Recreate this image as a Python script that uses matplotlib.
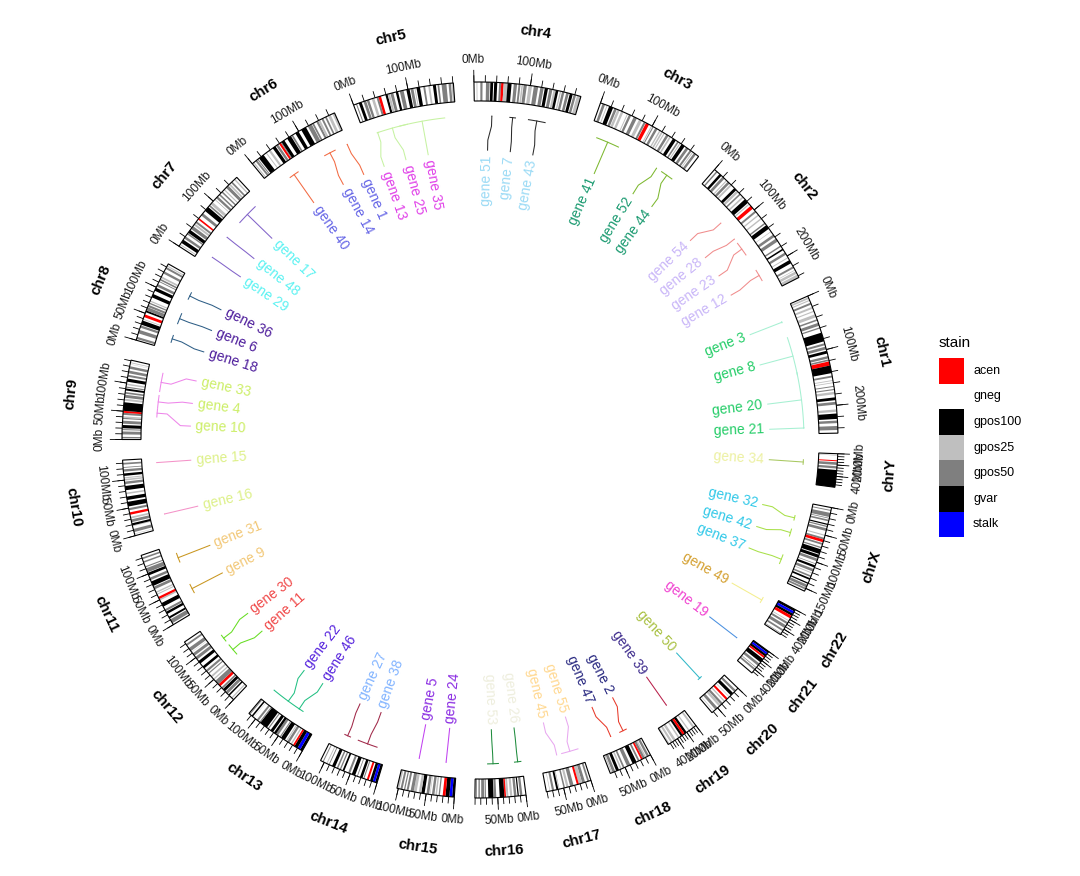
import numpy as np
import matplotlib
matplotlib.use('Agg')
import matplotlib.pyplot as plt
from matplotlib.patches import Rectangle

plt.rcParams['font.family'] = ['Liberation Sans', 'DejaVu Sans']

# ---------------- data ----------------
chrom_names = ['chr1', 'chr2', 'chr3', 'chr4', 'chr5', 'chr6', 'chr7', 'chr8', 'chr9', 'chr10',
               'chr11', 'chr12', 'chr13', 'chr14', 'chr15', 'chr16', 'chr17', 'chr18', 'chr19',
               'chr20', 'chr21', 'chr22', 'chrX', 'chrY']
chrom_lengths = [249.25, 243.2, 198.0, 191.15, 180.9, 171.1, 159.1, 146.4, 141.2, 135.5, 135.0,
                 133.9, 115.2, 107.3, 102.5, 90.4, 81.2, 78.1, 59.1, 63.0, 48.1, 51.3, 155.3, 59.4]
label_steps = [100, 100, 100, 100, 100, 100, 100, 50, 50, 50, 50, 50, 50, 50, 50, 50, 50, 50,
               20, 50, 20, 20, 50, 20]
tick_steps = [20, 20, 20, 20, 20, 20, 20, 10, 10, 10, 10, 10, 10, 10, 10, 10, 10, 10,
              5, 10, 5, 5, 10, 5]

bands_chr1 = [(2.3,5.4,'g25'),(7.2,9.2,'g25'),(12.7,16.2,'g50'),(20.4,23.9,'g25'),(28.0,30.0,'g25'),
              (34.6,40.1,'g25'),(44.0,46.8,'g50'),(50.7,56.1,'g50'),(59.0,61.3,'g50'),(68.9,84.9,'g100'),
              (88.4,92.0,'g50'),(94.7,99.7,'g50'),(102.2,107.2,'g100'),(111.8,116.1,'g50'),
              (117.8,120.7,'g50'),(121.5,128.9,'ac'),(128.9,142.6,'gv'),(147.0,150.3,'g50'),
              (155.0,156.5,'g25'),(159.1,160.5,'g25'),(165.5,167.2,'g50'),(170.9,172.9,'g50'),
              (176.0,180.3,'g25'),(185.8,190.8,'g100'),(193.8,198.7,'g50'),(207.2,211.5,'g25'),
              (214.5,224.1,'g100'),(227.0,231.5,'g50'),(236.6,243.7,'g50')]
bands_chr2 = [(4.4,7.0,'g50'),(12.0,16.5,'g100'),(19.0,23.9,'g50'),(27.9,29.8,'g25'),(31.8,36.3,'g50'),
              (38.3,41.5,'g25'),(47.8,52.9,'g100'),(54.0,58.4,'g25'),(61.3,64.1,'g50'),(68.6,71.5,'g25'),
              (75.0,83.3,'g100'),(85.3,87.4,'g25'),(90.5,96.8,'ac'),(102.1,105.6,'g50'),(110.6,113.0,'g25'),
              (118.6,121.1,'g25'),(129.1,131.7,'g50'),(134.3,142.1,'g100'),(147.9,149.0,'g25'),
              (154.9,159.6,'g50'),(163.5,169.5,'g50'),(178.0,180.6,'g50'),(184.8,187.6,'g100'),
              (192.7,197.0,'g50'),(202.5,204.1,'g25'),(208.2,214.5,'g100'),(221.0,224.5,'g50'),
              (228.0,229.1,'g25'),(231.0,235.6,'g25'),(237.3,243.2,'g25')]
bands_chr3 = [(4.0,8.7,'g50'),(11.8,13.3,'g25'),(16.4,23.9,'g100'),(26.4,30.9,'g50'),(32.1,36.5,'g25'),
              (39.4,43.7,'g25'),(50.6,52.3,'g25'),(54.4,58.6,'g50'),(63.7,69.8,'g50'),(74.2,79.8,'g25'),
              (83.5,87.2,'g50'),(87.9,93.9,'ac'),(98.3,100.0,'g25'),(101.2,103.1,'g50'),
              (106.5,110.9,'g50'),(114.8,117.3,'g25'),(119.0,121.9,'g25'),(123.8,125.8,'g25'),
              (129.2,133.7,'g50'),(135.7,138.7,'g25'),(142.8,148.9,'g100'),(152.1,155.0,'g50'),
              (157.0,159.0,'g25'),(161.0,167.6,'g100'),(170.9,175.7,'g50'),(179.0,182.7,'g50'),
              (184.5,186.0,'g25'),(187.9,192.3,'g50')]
bands_chr4 = [(4.5,6.0,'g25'),(11.3,15.2,'g50'),(21.3,27.7,'g50'),(29.0,34.0,'g100'),(35.8,41.2,'g100'),
              (44.6,48.2,'g50'),(48.2,52.7,'ac'),(52.7,59.5,'g25'),(59.5,66.6,'g100'),(70.5,76.3,'g50'),
              (78.9,82.4,'g50'),(84.1,86.9,'g25'),(88.0,93.7,'g50'),(96.8,102.9,'g25'),(106.2,113.9,'g50'),
              (117.8,123.8,'g50'),(125.8,131.5,'g100'),(134.0,139.5,'g50'),(141.5,145.6,'g25'),
              (145.6,150.2,'g100'),(152.9,155.3,'g25'),(156.8,161.1,'g50'),(164.5,169.2,'g50'),
              (171.0,176.3,'g100'),(178.0,182.3,'g50'),(184.2,191.1,'g25')]
bands_chr5 = [(4.5,6.3,'g50'),(9.8,15.0,'g100'),(18.4,23.3,'g50'),(24.6,28.9,'g50'),(33.8,38.4,'g25'),
              (42.5,46.1,'g50'),(46.1,50.7,'ac'),(58.9,62.9,'g100'),(63.2,67.2,'g25'),(68.1,73.3,'g50'),
              (77.8,82.0,'g100'),(85.1,91.9,'g50'),(97.0,102.8,'g100'),(104.5,109.6,'g50'),
              (111.5,113.1,'g25'),(115.2,121.4,'g100'),(127.3,130.6,'g50'),(136.2,139.5,'g25'),
              (144.5,149.8,'g100'),(152.7,155.7,'g50'),(159.9,168.5,'g50'),(172.3,176.6,'g50'),
              (177.4,180.9,'g25')]
bands_chr6 = [(2.3,4.2,'g25'),(7.1,10.6,'g50'),(11.6,13.4,'g50'),(15.2,25.2,'g100'),(30.4,32.1,'g25'),
              (36.6,40.5,'g25'),(45.2,51.1,'g100'),(52.6,57.0,'g50'),(58.8,62.6,'ac'),(62.6,64.2,'g50'),
              (64.2,70.0,'g100'),(75.9,83.9,'g100'),(84.9,88.0,'g50'),(93.1,99.5,'g100'),
              (105.0,114.6,'g100'),(118.3,126.1,'g50'),(127.1,130.3,'g50'),(135.2,139.0,'g50'),
              (139.0,142.8,'g25'),(145.6,149.0,'g50'),(152.5,155.6,'g50'),(158.5,163.5,'g25'),
              (167.0,171.1,'g25')]
bands_chr7 = [(2.8,4.5,'g25'),(7.3,13.8,'g100'),(16.5,20.9,'g50'),(25.5,28.0,'g50'),(28.8,35.0,'g100'),
              (37.2,43.3,'g50'),(45.4,49.0,'g25'),(50.5,54.0,'g50'),(58.1,61.1,'ac'),(67.0,72.0,'g50'),
              (77.5,86.4,'g100'),(88.2,91.1,'g50'),(92.8,98.0,'g25'),(103.8,104.5,'g50'),
              (107.4,111.6,'g50'),(114.6,117.4,'g50'),(121.1,123.8,'g50'),(127.1,129.2,'g25'),
              (132.6,138.2,'g50'),(139.8,142.8,'g25'),(145.1,148.2,'g50'),(152.6,155.1,'g25')]
bands_chr8 = [(2.2,6.2,'g50'),(12.7,19.0,'g50'),(23.3,27.4,'g50'),(28.8,36.5,'g100'),(38.3,39.7,'g25'),
              (43.1,48.1,'ac'),(52.2,55.5,'g100'),(55.5,61.6,'g50'),(62.2,66.0,'g50'),(68.1,70.5,'g50'),
              (72.3,74.4,'g25'),(80.6,86.9,'g100'),(93.3,99.0,'g100'),(101.6,106.2,'g50'),
              (110.5,112.1,'g50'),(113.8,116.7,'g50'),(118.2,121.4,'g25'),(127.3,131.5,'g50'),
              (136.4,139.9,'g50'),(141.2,143.0,'g25')]
bands_chr9 = [(2.2,4.6,'g50'),(9.0,14.2,'g50'),(16.6,18.5,'g50'),(19.9,25.6,'g100'),(28.0,33.2,'g50'),
              (36.3,38.4,'g50'),(38.4,41.0,'g25'),(43.6,47.3,'g50'),(47.3,50.7,'ac'),(50.7,65.9,'gv'),
              (68.7,72.2,'g25'),(74.0,79.2,'g50'),(81.1,84.1,'g50'),(86.9,90.4,'g100'),(91.8,93.9,'g50'),
              (96.6,99.3,'g25'),(102.6,108.2,'g100'),(111.3,114.9,'g50'),(117.7,122.5,'g50'),
              (125.8,130.3,'g50'),(133.5,134.0,'g25'),(135.9,137.4,'g25')]
bands_chr10 = [(3.0,3.8,'g25'),(6.6,12.2,'g50'),(17.3,18.6,'g25'),(18.7,22.6,'g100'),(24.6,29.6,'g50'),
               (31.3,34.4,'g25'),(38.0,42.3,'ac'),(46.1,49.9,'g50'),(52.9,61.2,'g100'),(64.5,70.6,'g100'),
               (74.9,77.7,'g25'),(82.0,89.5,'g100'),(92.9,97.3,'g50'),(99.1,101.9,'g25'),
               (103.0,104.9,'g25'),(107.4,111.8,'g100'),(114.9,119.1,'g50'),(121.7,123.1,'g50'),
               (127.5,130.6,'g50')]
bands_chr11 = [(3.2,10.7,'g50'),(12.7,16.2,'g100'),(21.7,26.1,'g100'),(27.2,31.0,'g50'),(36.4,43.5,'g100'),
               (48.8,51.6,'g25'),(51.6,55.7,'ac'),(59.9,61.7,'g25'),(63.4,65.9,'g25'),(70.5,75.5,'g50'),
               (77.1,85.6,'g100'),(88.3,92.8,'g50'),(97.2,102.1,'g100'),(103.0,110.6,'g50'),
               (112.5,114.5,'g50'),(121.2,123.9,'g50'),(127.8,130.8,'g50')]
bands_chr12 = [(3.3,5.4,'g25'),(10.1,12.8,'g100'),(14.8,20.0,'g50'),(21.3,26.5,'g100'),(27.3,30.5,'g50'),
               (33.3,38.2,'ac'),(38.2,46.4,'g50'),(49.1,51.5,'g25'),(54.9,58.1,'g25'),(63.1,65.1,'g50'),
               (67.7,71.5,'g50'),(75.7,80.3,'g100'),(86.7,92.2,'g100'),(95.8,101.2,'g50'),
               (103.8,109.0,'g50'),(111.7,112.3,'g25'),(114.3,120.7,'g50'),(125.9,129.3,'g50')]
bands_chr13 = [(0.0,4.5,'gv'),(4.5,10.0,'st'),(10.0,16.3,'gv'),(16.3,19.5,'ac'),(21.6,24.2,'g25'),
               (27.0,31.3,'g50'),(32.2,34.0,'g25'),(36.5,44.3,'g100'),(45.1,47.2,'g50'),(50.9,55.3,'g50'),
               (55.3,59.6,'g100'),(61.6,67.0,'g100'),(70.7,72.8,'g50'),(74.9,89.4,'g100'),
               (89.4,91.5,'g50'),(94.0,97.5,'g50'),(103.7,104.2,'g25'),(106.3,109.1,'g100'),
               (112.3,114.0,'g50')]
bands_chr14 = [(0.0,3.7,'gv'),(3.7,8.1,'st'),(8.1,13.0,'gv'),(15.6,19.1,'ac'),(23.6,25.5,'g50'),
               (27.2,31.8,'g100'),(36.0,37.4,'g50'),(40.9,47.2,'g100'),(50.4,54.1,'g50'),(61.6,64.8,'g100'),
               (67.9,70.2,'g50'),(73.3,76.0,'g50'),(79.3,84.9,'g100'),(89.8,91.4,'g50'),(94.2,95.8,'g25'),
               (101.5,103.2,'g50')]
bands_chr15 = [(0.0,3.9,'gv'),(3.9,8.7,'st'),(8.7,15.8,'gv'),(15.8,20.7,'ac'),(25.7,28.0,'g50'),
               (30.9,33.6,'g25'),(35.4,39.8,'g50'),(42.5,43.6,'g25'),(44.8,49.5,'g50'),(52.9,58.8,'g100'),
               (59.0,63.4,'g25'),(67.3,72.2,'g25'),(72.4,78.0,'g50'),(81.7,85.2,'g50'),(87.8,90.0,'g50'),
               (92.7,96.3,'g50'),(98.5,102.5,'g25')]
bands_chr16 = [(6.3,10.5,'g50'),(12.6,14.8,'g100'),(16.8,21.2,'g50'),(24.2,28.1,'g25'),(31.0,34.6,'g25'),
               (35.3,38.2,'ac'),(38.2,46.5,'gv'),(52.6,56.7,'g50'),(57.4,66.7,'g100'),(70.8,72.9,'g50'),
               (74.1,79.2,'g50'),(81.7,84.2,'g50'),(87.1,88.7,'g50')]
bands_chr17 = [(3.3,6.5,'g50'),(10.7,16.0,'g50'),(16.0,22.2,'g25'),(22.2,25.8,'ac'),(31.8,38.1,'g50'),
               (40.9,44.9,'g25'),(47.4,50.2,'g50'),(57.6,58.3,'g50'),(59.5,63.0,'g100'),(67.1,70.9,'g50'),
               (74.3,75.3,'g25')]
bands_chr18 = [(2.9,7.1,'g50'),(8.5,10.9,'g25'),(11.1,15.4,'g50'),(15.4,18.5,'ac'),(21.6,24.8,'g50'),
               (27.5,35.1,'g100'),(39.5,45.9,'g50'),(50.7,53.8,'g50'),(56.2,59.0,'g25'),(61.6,66.8,'g100'),
               (68.8,73.7,'g50'),(74.2,76.1,'g25')]
bands_chr19 = [(3.4,6.9,'g25'),(13.8,16.1,'g25'),(20.0,24.4,'gv'),(24.4,28.6,'ac'),(28.6,32.4,'gv'),
               (35.5,38.3,'g25'),(43.4,47.8,'g25'),(50.0,53.8,'g25'),(56.3,58.3,'g25')]
bands_chr20 = [(5.1,9.2,'g50'),(12.1,17.9,'g100'),(21.3,22.3,'g25'),(25.6,29.4,'ac'),(32.1,34.4,'g25'),
               (37.6,41.7,'g50'),(42.1,46.4,'g25'),(49.8,55.0,'g50'),(58.4,59.4,'g25')]
bands_chr21 = [(0.0,2.8,'gv'),(2.8,6.8,'st'),(6.8,10.9,'gv'),(10.9,14.3,'ac'),(16.4,24.0,'g100'),
               (26.8,31.5,'g50'),(35.3,36.4,'g50'),(38.3,41.6,'g50')]
bands_chr22 = [(0.0,3.8,'gv'),(3.8,8.3,'st'),(8.3,12.7,'gv'),(12.7,17.9,'ac'),(22.2,23.5,'g25'),
               (25.9,29.6,'g50'),(32.2,37.6,'g50'),(41.0,44.2,'g50'),(48.4,49.4,'g50')]
bands_chrX = [(4.3,6.0,'g50'),(9.6,17.1,'g50'),(18.6,19.9,'g50'),(21.9,24.9,'g50'),(29.3,31.5,'g100'),
              (33.1,35.3,'g50'),(37.6,42.4,'g50'),(49.3,51.3,'g25'),(54.8,58.1,'g50'),(58.1,63.0,'ac'),
              (64.6,67.8,'g50'),(71.8,74.1,'g50'),(76.0,84.6,'g100'),(86.2,91.8,'g100'),(93.5,98.3,'g50'),
              (102.6,103.7,'g50'),(106.1,110.1,'g100'),(113.0,117.7,'g50'),(119.9,121.5,'g25'),
              (125.3,128.2,'g50'),(130.4,133.5,'g100'),(138.9,141.2,'g100'),(143.0,148.0,'g50'),
              (149.0,152.2,'g50')]
bands_chrY = [(2.5,3.0,'g50'),(11.6,13.4,'ac'),(15.1,19.8,'g50'),(22.1,26.2,'g50'),(28.8,59.4,'gv')]

stain_names = ['acen', 'gneg', 'gpos100', 'gpos25', 'gpos50', 'gvar', 'stalk']
stain_codes = ['ac', 'gn', 'g100', 'g25', 'g50', 'gv', 'st']
stain_colors = ['#FF0000', '#FFFFFF', '#000000', '#BFBFBF', '#7F7F7F', '#000000', '#0000FF']

# genes: id, chromosome, start, end (Mb)
gene_ids = [3, 8, 20, 21, 54, 28, 23, 12, 41, 52, 44, 51, 7, 43, 13, 25, 35, 1, 14, 40,
            17, 48, 29, 36, 6, 18, 33, 4, 10, 15, 16, 31, 9, 30, 11, 22, 46, 27, 38, 5, 24,
            53, 26, 55, 45, 47, 2, 39, 50, 19, 49, 32, 42, 37, 34]
gene_chrom = ['chr1', 'chr1', 'chr1', 'chr1', 'chr2', 'chr2', 'chr2', 'chr2', 'chr3', 'chr3', 'chr3',
              'chr4', 'chr4', 'chr4', 'chr5', 'chr5', 'chr5', 'chr6', 'chr6', 'chr6', 'chr7', 'chr7',
              'chr7', 'chr8', 'chr8', 'chr8', 'chr9', 'chr9', 'chr9', 'chr10', 'chr10', 'chr11',
              'chr11', 'chr12', 'chr12', 'chr13', 'chr13', 'chr14', 'chr14', 'chr15', 'chr15',
              'chr16', 'chr16', 'chr17', 'chr17', 'chr18', 'chr18', 'chr19', 'chr20', 'chr21',
              'chr22', 'chrX', 'chrX', 'chrX', 'chrY']
gene_start = [24.5, 57.4, 128.0, 236.5, 77.4, 118.2, 128.0, 192.0, 15.0, 146.5, 158.0, 33.3, 68.0,
              104.5, 23.0, 24.0, 69.0, 168.0, 118.7, 39.0, 102.5, 65.0, 16.5, 104.5, 52.5, 14.0,
              93.0, 60.0, 43.0, 126.4, 25.0, 97.5, 31.5, 89.0, 56.0, 36.0, 45.4, 74.5, 19.0, 73.3,
              20.3, 44.5, 0.5, 4.0, 47.6, 50.7, 16.7, 21.5, 32.5, 14.6, 8.0, 27.7, 55.0, 108.0, 13.2]
gene_end = [28.5, 134.6, 238.0, 239.5, 78.4, 119.2, 158.0, 217.0, 63.0, 147.5, 184.5, 34.3, 81.0,
            139.5, 27.0, 86.0, 160.0, 169.5, 143.7, 60.0, 147.5, 66.0, 17.5, 120.5, 75.5, 30.0,
            131.0, 87.0, 60.0, 127.4, 26.0, 117.5, 51.5, 105.0, 81.0, 108.0, 46.4, 88.5, 60.0, 74.3,
            21.3, 67.5, 15.0, 39.0, 48.6, 51.7, 32.7, 22.5, 42.5, 15.6, 21.0, 38.7, 71.0, 128.0, 24.2]

# per-chromosome colours of the connector lines and of the gene labels
line_colors = ['#A6F0D2', '#F08C8C', '#7DB830', '#2B2B2B', '#C6F2A2', '#F26A42', '#8263C9', '#2E5E86',
               '#EE86EA', '#F492C8', '#C9961F', '#66DD22', '#22C083', '#A02848', '#C142F0', '#1F8C3D',
               '#E8A8F0', '#E83A2A', '#B8204A', '#30B8C8', '#4A90E0', '#F4EE8E', '#A8E048', '#A8C860']
text_colors = ['#22CC66', '#C9B6F8', '#1A9A70', '#9ADAF5', '#E040E8', '#6464E6', '#5CF2F2', '#4B1A9A',
               '#CCEE66', '#DDF088', '#F2C878', '#F04848', '#5522DD', '#82B4FF', '#8A2BE2', '#EEEEDD',
               '#FFD890', '#282880', '#3C2A8C', '#A8C040', '#F040D0', '#D4A030', '#30C8E8', '#ECF0A0']

# ---------------- layout (style) ----------------
GAP = 3.3          # degrees between chromosomes
A0 = 1.1           # clockwise end of chr1 (degrees)
R_OUT, R_IN = 1.0, 0.947
R_TMIN, R_TMAJ, R_TLAB, R_CLAB = 1.019, 1.034, 1.046, 1.15
R_CAP, R_K1, R_K2, R_END, R_LAB = 0.905, 0.877, 0.838, 0.81, 0.795
LABEL_SEP = 4.5
LW = 0.75

all_bands = [bands_chr1, bands_chr2, bands_chr3, bands_chr4, bands_chr5, bands_chr6, bands_chr7,
             bands_chr8, bands_chr9, bands_chr10, bands_chr11, bands_chr12, bands_chr13, bands_chr14,
             bands_chr15, bands_chr16, bands_chr17, bands_chr18, bands_chr19, bands_chr20,
             bands_chr21, bands_chr22, bands_chrX, bands_chrY]
code_color = dict(zip(stain_codes, stain_colors))

lengths = np.array(chrom_lengths)
scale = (360.0 - GAP * len(lengths)) / lengths.sum()   # degrees per Mb
spans = lengths * scale
ends = A0 + np.concatenate([[0], np.cumsum(spans + GAP)[:-1]])
starts = ends + spans          # angle of 0 Mb (position grows clockwise)
cidx = {n: i for i, n in enumerate(chrom_names)}


def pos2deg(ci, p):
    return starts[ci] - np.asarray(p) * scale


def tangential(deg):
    t = deg % 360
    if t <= 180:
        return t - 90, 'bottom'
    return t + 90, 'top'


fig = plt.figure(figsize=(10.8, 8.76), dpi=100)
cx, cy, rad_px = 480, 440, 358
rmax = 1.25
half = rad_px * rmax
ax = fig.add_axes([(cx - half) / 1080, (876 - cy - half) / 876, 2 * half / 1080, 2 * half / 876],
                  projection='polar')
ax.set_ylim(0, rmax)
ax.set_axis_off()

# ---------------- ideogram ----------------
for ci, name in enumerate(chrom_names):
    L = chrom_lengths[ci]
    th_end = np.deg2rad(ends[ci])
    ax.bar(th_end, R_OUT - R_IN, width=np.deg2rad(spans[ci]), bottom=R_IN, align='edge',
           color='white', linewidth=0)
    for (a, b, code) in all_bands[ci]:
        b = min(b, L)
        left = np.deg2rad(pos2deg(ci, b))
        ax.bar(left, R_OUT - R_IN, width=np.deg2rad((b - a) * scale), bottom=R_IN, align='edge',
               color=code_color[code], linewidth=0)
    ax.bar(th_end, R_OUT - R_IN, width=np.deg2rad(spans[ci]), bottom=R_IN, align='edge',
           fill=False, edgecolor='black', linewidth=0.8)

    # ticks
    minor = np.arange(0, L + 1e-6, tick_steps[ci])
    major = np.arange(0, L + 1e-6, label_steps[ci])
    ax.vlines(np.deg2rad(pos2deg(ci, minor)), R_OUT, R_TMIN, color='black', linewidth=0.6)
    ax.vlines(np.deg2rad(pos2deg(ci, major)), R_OUT, R_TMAJ, color='black', linewidth=0.6)
    for m in major:
        d = float(pos2deg(ci, m))
        rot, va = tangential(d)
        ax.text(np.deg2rad(d), R_TLAB, f'{int(m)}Mb', rotation=rot, rotation_mode='anchor',
                ha='center', va=va, fontsize=8.6, color='#1A1A1A', clip_on=False)

    # chromosome name
    dmid = (starts[ci] + ends[ci]) / 2
    rot, _ = tangential(dmid)
    ax.text(np.deg2rad(dmid), R_CLAB, name, rotation=rot, rotation_mode='anchor',
            ha='center', va='center', fontsize=10.8, fontweight='bold', clip_on=False)

# ---------------- gene labels ----------------
g_ci = np.array([cidx[c] for c in gene_chrom])
g_start_deg = np.array([pos2deg(c, s) for c, s in zip(g_ci, gene_start)])
g_end_deg = np.array([pos2deg(c, e) for c, e in zip(g_ci, gene_end)])
g_deg = (g_start_deg + g_end_deg) / 2


def spread(angles, sep):
    """Evenly spread overlapping label angles around the mean of each overlapping group."""
    order = np.argsort(angles)
    vals = np.asarray(angles)[order]
    clusters = [[k] for k in range(len(vals))]
    while True:
        pos = []
        for cl in clusters:
            m = vals[cl].mean()
            n = len(cl)
            pos.append(m + (np.arange(n) - (n - 1) / 2) * sep)
        merged = False
        for j in range(len(clusters) - 1):
            if pos[j + 1][0] - pos[j][-1] < sep - 1e-9:
                clusters[j] = clusters[j] + clusters[j + 1]
                del clusters[j + 1]
                merged = True
                break
        if not merged:
            break
    out = np.empty(len(vals))
    out[order] = np.concatenate(pos)
    return out


lab_deg = np.empty(len(gene_ids))
for ci in range(len(chrom_names)):
    sel = np.where(g_ci == ci)[0]
    if len(sel):
        lab_deg[sel] = spread(g_deg[sel], LABEL_SEP)

for k in range(len(gene_ids)):
    ci = g_ci[k]
    lc, tc = line_colors[ci], text_colors[ci]
    tg, tl = np.deg2rad(g_deg[k]), np.deg2rad(lab_deg[k])
    ax.plot([tg, tg, tl, tl], [R_CAP, R_K1, R_K2, R_END], color=lc, linewidth=LW)
    arc = np.deg2rad(np.linspace(g_start_deg[k], g_end_deg[k], 30))
    ax.plot(arc, np.full_like(arc, R_CAP), color=lc, linewidth=LW, solid_capstyle='butt')
    d = lab_deg[k] % 360
    if np.cos(np.deg2rad(d)) >= 0:
        rot, ha = (d if d <= 90 else d - 360), 'right'
    else:
        rot, ha = d - 180, 'left'
    ax.text(tl, R_LAB, f'gene {gene_ids[k]}', rotation=rot, rotation_mode='anchor',
            ha=ha, va='center', fontsize=10, color=tc, clip_on=False)

# ---------------- legend (drawn in pixel units) ----------------
lax = fig.add_axes([0, 0, 1, 1], facecolor='none')
lax.set_xlim(0, 1080)
lax.set_ylim(876, 0)
lax.set_axis_off()
key_x, key_y, key_w, key_h = 939, 358, 25, 25.6
lax.text(key_x, key_y - 8, 'stain', fontsize=11, ha='left', va='bottom')
for i, (nm, col) in enumerate(zip(stain_names, stain_colors)):
    lax.add_patch(Rectangle((key_x, key_y + i * key_h), key_w, key_h, facecolor=col,
                            edgecolor='none'))
    lax.text(key_x + key_w + 9, key_y + (i + 0.5) * key_h, nm, fontsize=9, ha='left',
             va='center')

fig.savefig('out.png', dpi=100)
